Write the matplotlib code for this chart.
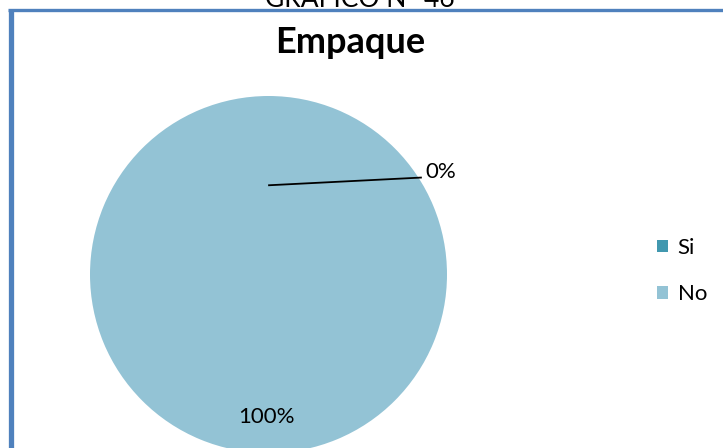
import matplotlib.pyplot as plt
from matplotlib.lines import Line2D

# datos del grafico
categorias = ['Si', 'No']
valores = [0, 100]
colores = ['#4198AF', '#93C3D5']
titulo = 'Empaque'
encabezado = 'GRAFICO N° 46'

plt.rcParams['font.family'] = ['Lato', 'DejaVu Sans']

fig = plt.figure(figsize=(7.23, 4.48), dpi=100)
W, H = 723, 448

# marco azul (izquierda y arriba)
fig.add_artist(Line2D([10.5 / W, 10.5 / W], [0, 1 - 10.5 / H], color='#4F81BD',
                      lw=3.8, transform=fig.transFigure, solid_capstyle='butt'))
fig.add_artist(Line2D([8 / W, 1], [1 - 10.5 / H, 1 - 10.5 / H], color='#4F81BD',
                      lw=2.4, transform=fig.transFigure, solid_capstyle='butt'))

# encabezado cortado y titulo
fig.text(360 / W, 1 - 7 / H, encabezado, ha='center', va='baseline', fontsize=19)
fig.text(350 / W, 1 - 53 / H, titulo, ha='center', va='baseline', fontsize=26,
         fontweight='bold')

# pastel
r = 178.5
cx, cy = 268.5, 274.5
ax = fig.add_axes([(cx - r) / W, (H - cy - r) / H, 2 * r / W, 2 * r / H])
wedges, _ = ax.pie(valores, colors=colores, startangle=90, counterclock=False,
                   radius=1)
ax.set_xlim(-1, 1)
ax.set_ylim(-1, 1)
ax.set_aspect('auto')
ax.axis('off')

total = sum(valores)
# etiqueta del valor grande (dentro de la rebanada)
ax.text(-0.014, -0.8, f'{valores[1] / total * 100:.0f}%', ha='center', va='center',
        fontsize=16)
# etiqueta 0% con linea guia
ax.plot([0.003, 0.854], [0.50, 0.543], color='black', lw=1.3, clip_on=False)
ax.text(0.88, 0.574, f'{valores[0] / total * 100:.0f}%', ha='left', va='center',
        fontsize=16, clip_on=False)

fig.legend(wedges, categorias, loc='center left',
           bbox_to_anchor=(637 / W, 1 - 271 / H), frameon=False, fontsize=16,
           handlelength=0.48, handleheight=0.48, handletextpad=0.45,
           labelspacing=1.2)

plt.savefig('out.png', dpi=100)
